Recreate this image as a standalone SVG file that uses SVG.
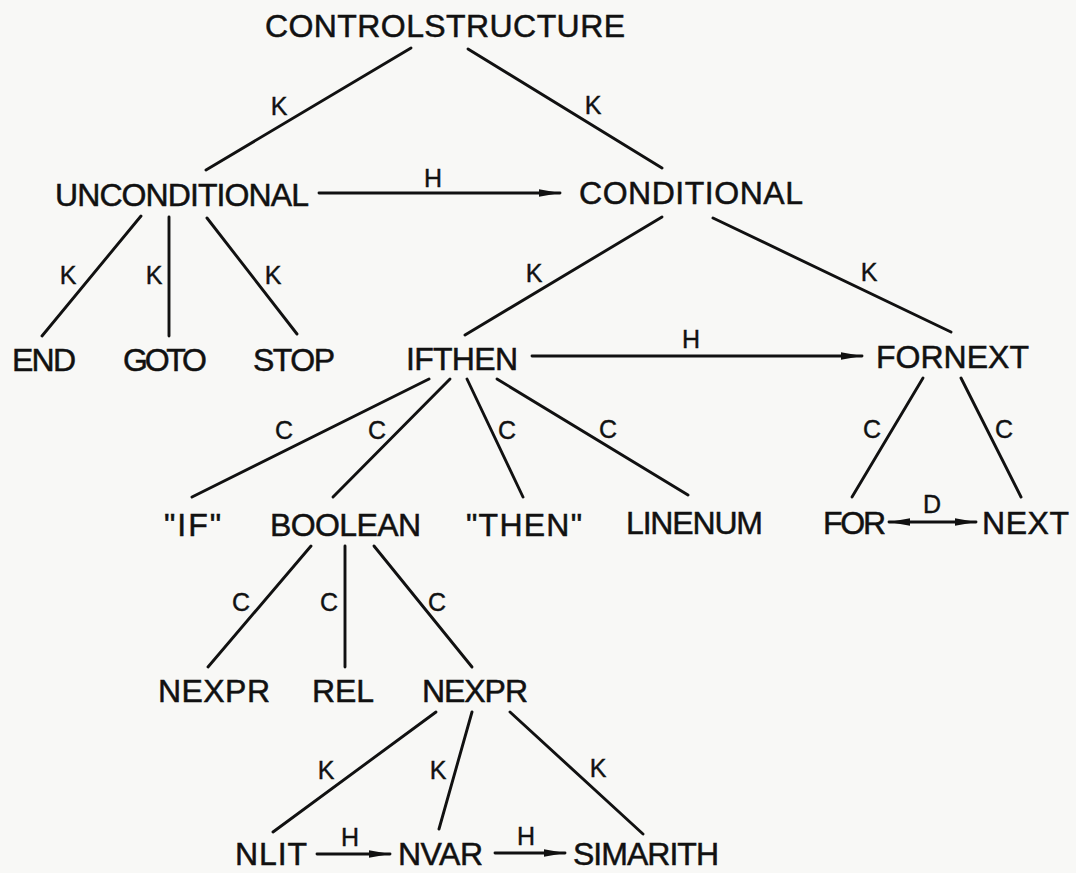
<svg xmlns="http://www.w3.org/2000/svg" width="1076" height="873" viewBox="0 0 1076 873">
<style>
.n{font-family:"Liberation Sans",Arial,sans-serif;font-size:32px;fill:#111;stroke:#111;stroke-width:0.5;}
.l{font-family:"Liberation Sans",Arial,sans-serif;font-size:25px;fill:#111;stroke:#111;stroke-width:0.4;text-anchor:middle;}
.e{stroke:#111;stroke-width:2.9;fill:none;stroke-linecap:round;}
</style>
<defs>
<marker id="ah" markerUnits="userSpaceOnUse" markerWidth="22" markerHeight="10" refX="21" refY="4.5" orient="auto">
<path d="M0,0.8 L21,4.5 L0,8.2 z" fill="#111"/>
</marker>
<marker id="as" markerUnits="userSpaceOnUse" markerWidth="22" markerHeight="10" refX="21" refY="4.5" orient="auto-start-reverse">
<path d="M0,0.8 L21,4.5 L0,8.2 z" fill="#111"/>
</marker>
</defs>
<rect width="1076" height="873" fill="#f8f8f6"/>
<g id="connectors">
<line class="e" x1="411" y1="48" x2="206" y2="170"/>
<line class="e" x1="468" y1="49" x2="662" y2="168"/>
<line class="e" x1="319" y1="193" x2="560" y2="193" marker-end="url(#ah)"/>
<line class="e" x1="141" y1="216" x2="42" y2="336"/>
<line class="e" x1="169" y1="217" x2="169" y2="336"/>
<line class="e" x1="207" y1="218" x2="297" y2="334"/>
<line class="e" x1="662" y1="217" x2="465" y2="335"/>
<line class="e" x1="713" y1="218" x2="951" y2="332"/>
<line class="e" x1="532" y1="356" x2="862" y2="356" marker-end="url(#ah)"/>
<line class="e" x1="429" y1="379" x2="192" y2="497"/>
<line class="e" x1="450" y1="379" x2="333" y2="497"/>
<line class="e" x1="467" y1="379" x2="523" y2="497"/>
<line class="e" x1="497" y1="379" x2="688" y2="495"/>
<line class="e" x1="923" y1="378" x2="852" y2="497"/>
<line class="e" x1="961" y1="378" x2="1021" y2="497"/>
<line class="e" x1="889" y1="522" x2="976" y2="522" marker-start="url(#as)" marker-end="url(#ah)"/>
<line class="e" x1="311" y1="546" x2="208" y2="667"/>
<line class="e" x1="345" y1="546" x2="345" y2="667"/>
<line class="e" x1="374" y1="546" x2="472" y2="667"/>
<line class="e" x1="436" y1="712" x2="273" y2="832"/>
<line class="e" x1="472" y1="712" x2="439" y2="829"/>
<line class="e" x1="510" y1="712" x2="643" y2="834"/>
<line class="e" x1="317" y1="854" x2="390" y2="854" marker-end="url(#ah)"/>
<line class="e" x1="495" y1="853" x2="565" y2="853" marker-end="url(#ah)"/>
<text class="l" x="279" y="115">K</text>
<text class="l" x="593" y="114">K</text>
<text class="l" x="433" y="187">H</text>
<text class="l" x="68" y="284">K</text>
<text class="l" x="154" y="284">K</text>
<text class="l" x="273" y="284">K</text>
<text class="l" x="534" y="282">K</text>
<text class="l" x="869" y="281">K</text>
<text class="l" x="691" y="348">H</text>
<text class="l" x="284" y="439">C</text>
<text class="l" x="377" y="439">C</text>
<text class="l" x="507" y="439">C</text>
<text class="l" x="608" y="438">C</text>
<text class="l" x="872" y="438">C</text>
<text class="l" x="1004" y="438">C</text>
<text class="l" x="932" y="513">D</text>
<text class="l" x="241" y="611">C</text>
<text class="l" x="329" y="611">C</text>
<text class="l" x="437" y="611">C</text>
<text class="l" x="326" y="779">K</text>
<text class="l" x="438" y="779">K</text>
<text class="l" x="598" y="777">K</text>
<text class="l" x="350" y="846">H</text>
<text class="l" x="526" y="845">H</text>
</g>
<g id="controlstructure"><text class="n" x="265" y="37" textLength="360" lengthAdjust="spacing">CONTROLSTRUCTURE</text></g>
<g id="unconditional"><text class="n" x="55" y="206" textLength="254" lengthAdjust="spacing">UNCONDITIONAL</text></g>
<g id="conditional"><text class="n" x="579" y="204" textLength="224" lengthAdjust="spacing">CONDITIONAL</text></g>
<g id="end"><text class="n" x="12" y="371" textLength="64" lengthAdjust="spacing">END</text></g>
<g id="goto"><text class="n" x="123" y="371" textLength="84" lengthAdjust="spacing">GOTO</text></g>
<g id="stop"><text class="n" x="253" y="371" textLength="82" lengthAdjust="spacing">STOP</text></g>
<g id="ifthen"><text class="n" x="406" y="370" textLength="112" lengthAdjust="spacing">IFTHEN</text></g>
<g id="fornext"><text class="n" x="876" y="368" textLength="153" lengthAdjust="spacing">FORNEXT</text></g>
<g id="if-lit"><text class="n" x="164" y="536" textLength="57" lengthAdjust="spacing">"IF"</text></g>
<g id="boolean"><text class="n" x="270" y="536" textLength="151" lengthAdjust="spacing">BOOLEAN</text></g>
<g id="then-lit"><text class="n" x="466" y="536" textLength="116" lengthAdjust="spacing">"THEN"</text></g>
<g id="linenum"><text class="n" x="626" y="534" textLength="137" lengthAdjust="spacing">LINENUM</text></g>
<g id="for"><text class="n" x="823" y="534" textLength="63" lengthAdjust="spacing">FOR</text></g>
<g id="next"><text class="n" x="982" y="534" textLength="87" lengthAdjust="spacing">NEXT</text></g>
<g id="nexpr1"><text class="n" x="158" y="702" textLength="112" lengthAdjust="spacing">NEXPR</text></g>
<g id="rel"><text class="n" x="312" y="702" textLength="62" lengthAdjust="spacing">REL</text></g>
<g id="nexpr2"><text class="n" x="422" y="702" textLength="106" lengthAdjust="spacing">NEXPR</text></g>
<g id="nlit"><text class="n" x="235" y="865" textLength="72" lengthAdjust="spacing">NLIT</text></g>
<g id="nvar"><text class="n" x="398" y="865" textLength="85" lengthAdjust="spacing">NVAR</text></g>
<g id="simarith"><text class="n" x="573" y="865" textLength="146" lengthAdjust="spacing">SIMARITH</text></g>
</svg>
